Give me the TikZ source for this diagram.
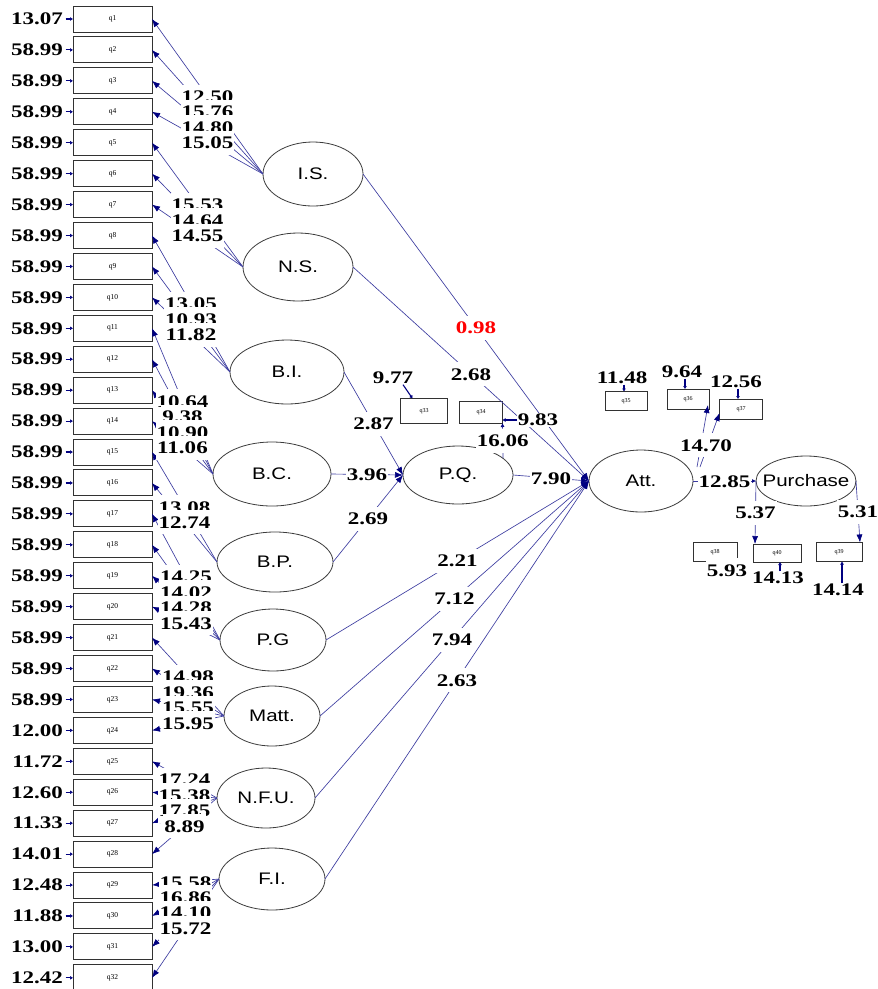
\documentclass[tikz,border=0pt]{standalone}
\usepackage{fontspec}
\setmainfont{Liberation Serif}
\newfontfamily\numf{Liberation Serif}[FakeStretch=1.3]
\newfontfamily\latf{Liberation Sans}[FakeStretch=1.23]
\usetikzlibrary{shapes.geometric,arrows.meta,calc}
\definecolor{lnblue}{RGB}{60,60,160}
\definecolor{arnavy}{RGB}{0,0,128}
\definecolor{ellgray}{RGB}{60,60,60}
\definecolor{boxgray}{RGB}{50,50,50}
\begin{document}
\begin{tikzpicture}[x=1pt,y=-1pt,
 obs/.style={draw=boxgray,line width=1pt,minimum width=79pt,minimum height=26pt,inner sep=0pt,outer sep=0pt,font=\fontsize{7.5}{7.5}\selectfont},
 sobs/.style={draw=boxgray,line width=0.9pt,inner sep=0pt,outer sep=0pt,font=\fontsize{6}{6}\selectfont},
 lat/.style={ellipse,draw=ellgray,line width=0.8pt,inner sep=0pt,outer sep=0pt},
 lattext/.style={font=\latf\fontsize{16.7}{17}\selectfont,text=black,inner sep=0pt},
 ld/.style={draw=lnblue,line width=0.65pt,-{Latex[length=8pt,width=6pt,color=arnavy]}},
 lab/.style={font=\numf\bfseries\fontsize{17.7}{18}\selectfont,fill=white,inner xsep=1pt,inner ysep=0pt,text height=18pt,text depth=6pt},
 errl/.style={font=\numf\bfseries\fontsize{17.7}{18}\selectfont,fill=white,inner sep=0.5pt},
 errarr/.style={draw=arnavy,line width=1.1pt,-{Latex[length=3pt,width=4pt]}},
]
\fill[white] (0,0) rectangle (878,989);
\useasboundingbox (0,0) rectangle (878,989);

% observed indicators on the left with error variances
\foreach \i/\e in {1/13.07,2/58.99,3/58.99,4/58.99,5/58.99,6/58.99,7/58.99,8/58.99,
  9/58.99,10/58.99,11/58.99,12/58.99,13/58.99,14/58.99,15/58.99,16/58.99,17/58.99,
  18/58.99,19/58.99,20/58.99,21/58.99,22/58.99,23/58.99,24/12.00,25/11.72,26/12.60,
  27/11.33,28/14.01,29/12.48,30/11.88,31/13.00,32/12.42}{
  \node[obs] (q\i) at (112.5,{19+(\i-1)*30.93}) {q\i};
  \node[errl,anchor=east] (e\i) at (63.5,{19+(\i-1)*30.93}) {\e};
  \draw[errarr] ([xshift=2pt]e\i.east) -- (q\i.west);
}

% latent variables
\node[lat,minimum width=100pt,minimum height=64pt,label={[lattext]center:I.S.}] (is) at (313,174) {};
\node[lat,minimum width=110pt,minimum height=68pt,label={[lattext]center:N.S.}] (ns) at (298,267) {};
\node[lat,minimum width=114pt,minimum height=64pt,label={[lattext]center:B.I.}] (bi) at (287,372) {};
\node[lat,minimum width=118pt,minimum height=64pt,label={[lattext]center:B.C.}] (bc) at (272,474) {};
\node[lat,minimum width=116pt,minimum height=60pt,label={[lattext]center:B.P.}] (bp) at (275,562) {};
\node[lat,minimum width=106pt,minimum height=62pt,label={[lattext]center:P.G}] (pg) at (273,640) {};
\node[lat,minimum width=96pt,minimum height=60pt,label={[lattext]center:Matt.}] (matt) at (272,716) {};
\node[lat,minimum width=98pt,minimum height=60pt,label={[lattext]center:N.F.U.}] (nfu) at (266,798) {};
\node[lat,minimum width=106pt,minimum height=62pt,label={[lattext]center:F.I.}] (fi) at (272,879) {};
\node[lat,minimum width=110pt,minimum height=58pt,label={[lattext]center:P.Q.}] (pq) at (458,475) {};
\node[lat,minimum width=104pt,minimum height=62pt,label={[lattext]center:Att.}] (att) at (641,481) {};
\node[lat,minimum width=100pt,minimum height=50pt,label={[lattext]center:Purchase}] (pur) at (806,481) {};

% small indicators on the right
\node[sobs,minimum width=47pt,minimum height=25pt] (q33) at (424,411) {q33};
\node[sobs,minimum width=43pt,minimum height=22pt] (q34) at (481,412) {q34};
\node[sobs,minimum width=42pt,minimum height=19pt] (q35) at (626,401) {q35};
\node[sobs,minimum width=42pt,minimum height=20pt] (q36) at (688,399) {q36};
\node[sobs,minimum width=43pt,minimum height=20pt] (q37) at (741,409) {q37};
\node[sobs,minimum width=44pt,minimum height=19pt] (q38) at (715,552) {q38};
\node[sobs,minimum width=48pt,minimum height=18pt] (q40) at (777,553) {q40};
\node[sobs,minimum width=46pt,minimum height=19pt] (q39) at (839,552) {q39};

% loadings (lines)
\foreach \l/\i in {is/1,is/2,is/3,is/4,ns/5,ns/6,ns/7,bi/8,bi/9,bi/10,bc/11,bc/12,bc/13,bc/14,
  bp/15,bp/16,pg/17,pg/18,pg/19,pg/20,matt/21,matt/22,matt/23,matt/24,nfu/25,nfu/26,nfu/27,nfu/28,
  fi/29,fi/30,fi/31,fi/32}{
  \draw[ld] (\l.west) -- (q\i.east);
}

% structural paths
\draw[ld] (is.east) -- (att.west);
\draw[ld] (ns.east) -- (att.west);
\draw[ld] (bi.east) -- (pq.west);
\draw[ld] (bc.east) -- (pq.west);
\draw[ld] (bp.east) -- (pq.west);
\draw[ld] (pq.east) -- (att.west);
\draw[ld] (pg.east) -- (att.west);
\draw[ld] (matt.east) -- (att.west);
\draw[ld] (nfu.east) -- (att.west);
\draw[ld] (fi.east) -- (att.west);
\draw[ld,-{Latex[length=4pt,width=4pt,color=arnavy]}] (att.east) -- (pur.west);
\coordinate (attq) at (697,467);
\coordinate (attr) at (700,467);
\draw[ld] (attq) -- ([xshift=-1pt,yshift=4pt]q36.south east);
\draw[ld] (attr) -- ([yshift=-4pt]q37.west);
\draw[ld] (pur.west) -- ([xshift=2pt]q40.north west);
\draw[ld] (pur.east) -- ([xshift=-2pt]q39.north east);
\coordinate (pqtop) at ($(pq.center)+(45,-17)$);
\draw[ld,-{Latex[length=4pt,width=4pt,color=arnavy]}] (pqtop) -- (q34.south east);

% loading labels
\foreach \l/\i/\v in {is/1/12.50,is/2/15.76,is/3/14.80,is/4/15.05,ns/5/15.53,ns/6/14.64,ns/7/14.55,
  bi/8/13.05,bi/9/10.93,bi/10/11.82,bc/11/10.64,bc/12/9.38,bc/13/10.90,bc/14/11.06,
  bp/15/13.08,bp/16/12.74,pg/17/14.25,pg/18/14.02,pg/19/14.28,pg/20/15.43,
  matt/21/14.98,matt/22/19.36,matt/23/15.55,matt/24/15.95,nfu/25/17.24,nfu/26/15.38,nfu/27/17.85,nfu/28/8.89,
  fi/29/15.58,fi/30/16.86,fi/31/14.10,fi/32/15.72}{
  \node[lab] at ($(\l.west)!.5!(q\i.east)$) {\v};
}

% structural labels
\node[lab,text=red] at ($(is.east)!.5!(att.west)$) {0.98};
\node[lab] at ($(ns.east)!.5!(att.west)$) {2.68};
\node[lab] at ($(bi.east)!.5!(pq.west)$) {2.87};
\node[lab] at ($(bc.east)!.5!(pq.west)$) {3.96};
\node[lab] at ($(bp.east)!.5!(pq.west)$) {2.69};
\node[lab] at ($(pq.east)!.5!(att.west)$) {7.90};
\node[lab] at ($(pg.east)!.5!(att.west)$) {2.21};
\node[lab] at ($(matt.east)!.5!(att.west)$) {7.12};
\node[lab] at ($(nfu.east)!.5!(att.west)$) {7.94};
\node[lab] at ($(fi.east)!.5!(att.west)$) {2.63};
\node[lab] at ($(att.east)!.5!(pur.west)$) {12.85};
\node[lab] at (706,445) {14.70};
\node[lab] at ($(pur.west)!.5!([xshift=2pt]q40.north west)$) {5.37};
\node[lab] at ($(pur.east)!.5!([xshift=-2pt]q39.north east)$) {5.31};
\node[lab] at ($(pqtop)!.5!(q34.south east)$) {16.06};

% error terms on the right
\node[errl] (e33) at (393,378) {9.77};
\draw[errarr] ([xshift=10pt]e33.south) -- ([xshift=12pt]q33.north west);
\node[errl] (e34) at (538,420) {9.83};
\draw[errarr] (e34.west) -- (e34.west -| q34.east);
\node[errl] (e35) at (622,378) {11.48};
\draw[errarr] ([xshift=2pt]e35.south) -- ([xshift=2pt]e35.south |- q35.north);
\node[errl] (e36) at (682,372) {9.64};
\draw[errarr] ([xshift=3pt]e36.south) -- ([xshift=3pt]e36.south |- q36.north);
\node[errl] (e37) at (736,382) {12.56};
\draw[errarr] ([xshift=2pt]e37.south) -- ([xshift=2pt]e37.south |- q37.north);
\node[lab] (e38) at (727,570) {5.93};
\node[errl] (e40) at (778,578) {14.13};
\draw[errarr] ([xshift=2pt]e40.north) -- ([xshift=2pt]e40.north |- q40.south);
\node[errl] (e39) at (838,590) {14.14};
\draw[errarr] ([xshift=4pt]e39.north) -- ([xshift=4pt]e39.north |- q39.south);
\end{tikzpicture}
\end{document}
